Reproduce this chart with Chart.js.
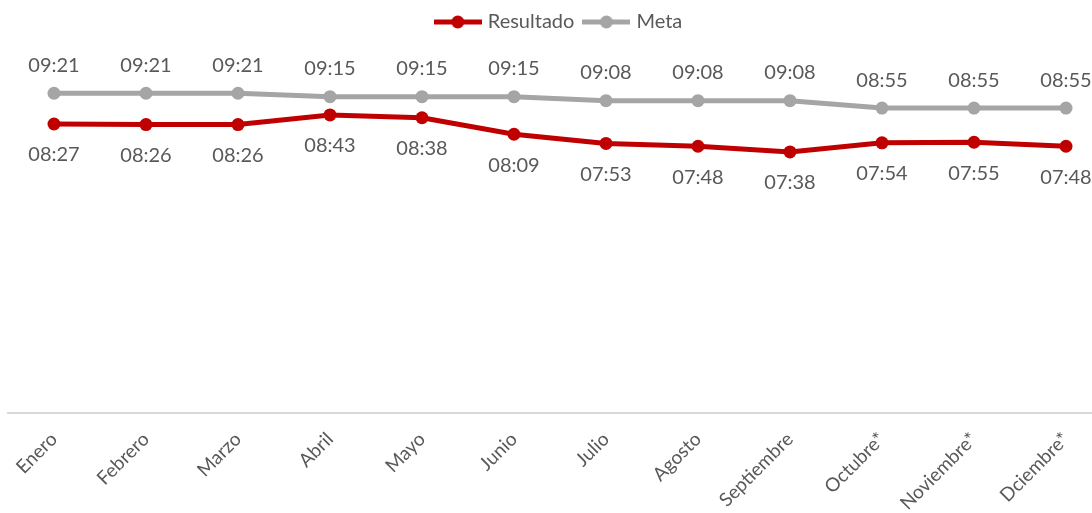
<!DOCTYPE html>
<html>
<head>
<meta charset="utf-8">
<script src="https://cdn.jsdelivr.net/npm/chart.js@4/dist/chart.umd.min.js"></script>
<style>
  html, body { margin: 0; padding: 0; background: #ffffff; overflow: hidden; }
  #wrap { width: 1120px; height: 513px; }
</style>
</head>
<body>
<div id="wrap"><canvas id="c" width="1120" height="513"></canvas></div>
<script>
// Meses del año
const meses = ['Enero', 'Febrero', 'Marzo', 'Abril', 'Mayo', 'Junio', 'Julio',
               'Agosto', 'Septiembre', 'Octubre*', 'Noviembre*', 'Dciembre*'];
// Tiempos (HH:MM)
const resultado = ['08:27', '08:26', '08:26', '08:43', '08:38', '08:09',
                   '07:53', '07:48', '07:38', '07:54', '07:55', '07:48'];
const meta = ['09:21', '09:21', '09:21', '09:15', '09:15', '09:15',
              '09:08', '09:08', '09:08', '08:55', '08:55', '08:55'];
// Rango del eje vertical en minutos (00:00 a 10:00)
const ejeMin = 0;
const ejeMax = 600;

const aMinutos = s => { const [h, m] = s.split(':').map(Number); return h * 60 + m; };
const aHora = v => String(Math.floor(v / 60)).padStart(2, '0') + ':' + String(v % 60).padStart(2, '0');

const ROJO = '#C00000';
const GRIS = '#A5A5A5';
const TEXTO = '#595959';
const FUENTE = 'Lato';

// Icono de leyenda: línea con marcador circular
function iconoLeyenda(color) {
  const c = document.createElement('canvas');
  c.width = 48; c.height = 14;
  const g = c.getContext('2d');
  g.strokeStyle = color; g.lineWidth = 5;
  g.beginPath(); g.moveTo(0, 7); g.lineTo(48, 7); g.stroke();
  g.fillStyle = color;
  g.beginPath(); g.arc(24, 7, 6.5, 0, Math.PI * 2); g.fill();
  return c;
}

// Etiquetas de valor sobre / bajo cada punto
const etiquetasValor = {
  id: 'etiquetasValor',
  afterDatasetsDraw(chart) {
    const ctx = chart.ctx;
    ctx.save();
    ctx.font = '20px ' + FUENTE;
    ctx.fillStyle = TEXTO;
    ctx.textAlign = 'center';
    ctx.textBaseline = 'middle';
    chart.data.datasets.forEach((ds, i) => {
      const m = chart.getDatasetMeta(i);
      m.data.forEach((pt, j) => {
        const dy = ds.etiqueta === 'arriba' ? -28 : 31;
        ctx.fillText(aHora(ds.data[j]), pt.x, pt.y + dy);
      });
    });
    ctx.restore();
  }
};

// Altura fija para la caja de la leyenda
const altoLeyenda = {
  id: 'altoLeyenda',
  beforeLayout(chart) {
    const lg = chart.legend;
    if (lg && !lg._ajustado) {
      const fit = lg.fit;
      lg.fit = function () { fit.call(this); this.height = 71; };
      lg._ajustado = true;
    }
  }
};

const iconos = { Resultado: iconoLeyenda(ROJO), Meta: iconoLeyenda(GRIS) };

new Chart(document.getElementById('c'), {
  type: 'line',
  data: {
    labels: meses,
    datasets: [
      {
        label: 'Resultado',
        data: resultado.map(aMinutos),
        borderColor: ROJO,
        backgroundColor: ROJO,
        borderWidth: 5,
        pointRadius: 6.5,
        pointBorderWidth: 0,
        pointBackgroundColor: ROJO,
        tension: 0,
        etiqueta: 'abajo'
      },
      {
        label: 'Meta',
        data: meta.map(aMinutos),
        borderColor: GRIS,
        backgroundColor: GRIS,
        borderWidth: 5,
        pointRadius: 6.5,
        pointBorderWidth: 0,
        pointBackgroundColor: GRIS,
        tension: 0,
        etiqueta: 'arriba'
      }
    ]
  },
  options: {
    responsive: false,
    animation: false,
    layout: { padding: { left: 8, right: 8, top: 0, bottom: 0 } },
    plugins: {
      tooltip: { enabled: false },
      legend: {
        position: 'top',
        align: 'center',
        labels: {
          usePointStyle: true,
          pointStyleWidth: 40,
          padding: 12,
          color: TEXTO,
          font: { family: FUENTE, size: 20 },
          generateLabels(chart) {
            return chart.data.datasets.map((ds, i) => ({
              text: ds.label,
              pointStyle: iconos[ds.label],
              fillStyle: ds.borderColor,
              strokeStyle: ds.borderColor,
              lineWidth: 0,
              fontColor: TEXTO,
              hidden: false,
              datasetIndex: i
            }));
          }
        }
      }
    },
    scales: {
      x: {
        offset: true,
        grid: { display: true, drawOnChartArea: false, drawTicks: false, color: 'rgba(0,0,0,0)' },
        border: { display: true, color: '#D9D9D9', width: 2 },
        ticks: {
          color: TEXTO,
          font: { family: FUENTE, size: 19 },
          minRotation: 45,
          maxRotation: 45,
          padding: 15,
          autoSkip: false
        },
        afterFit(scale) { scale.height = 100; }
      },
      y: {
        display: false,
        min: ejeMin,
        max: ejeMax
      }
    }
  },
  plugins: [etiquetasValor, altoLeyenda]
});
</script>
</body>
</html>
